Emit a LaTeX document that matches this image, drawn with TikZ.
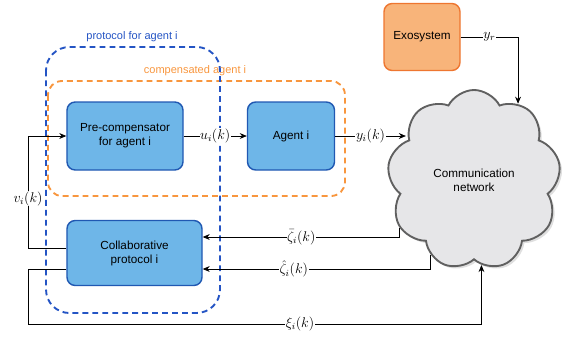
\documentclass[tikz,border=0pt]{standalone}
\usepackage{fontspec}
\setsansfont{Liberation Sans}
\usetikzlibrary{arrows.meta,shapes.symbols,shadows}
\definecolor{boxblue}{RGB}{110,182,232}
\definecolor{edgeblue}{RGB}{32,88,178}
\definecolor{boxorange}{RGB}{248,180,122}
\definecolor{edgeorange}{RGB}{238,118,48}
\definecolor{dashblue}{RGB}{36,84,196}
\definecolor{dashorange}{RGB}{248,150,62}
\definecolor{cloudgray}{RGB}{230,230,232}
\tikzset{
  block/.style={draw=edgeblue, fill=boxblue, line width=1.2pt, rounded corners=7pt,
    font=\sffamily, align=center, inner sep=2pt},
  exobox/.style={block, draw=edgeorange, fill=boxorange},
  arr/.style={-{Stealth[length=6pt,width=5pt]}, line width=0.6pt},
  lbl/.style={fill=white, inner sep=0.5pt, font=\large},
  dashbox/.style={line width=1.6pt, dash pattern=on 5pt off 3.5pt},
}

\begin{document}
\begin{tikzpicture}[x=0.03cm, y=-0.03cm]
\useasboundingbox (0,0) rectangle (564,336);

% dashed groups
\draw[dashbox, dashorange, rounded corners=12pt] (48,81) rectangle (345,196);
\node[text=dashorange, font=\sffamily\fontsize{9.4}{11}\selectfont] (comptitle) at (195,71) {compensated agent i};
\draw[dashbox, dashblue, rounded corners=20pt] (46,47) rectangle (220,313);
\node[text=dashblue, font=\sffamily\fontsize{9.4}{11}\selectfont] (prottitle) at (132,37) {protocol for agent i};

% blocks
\node[block, minimum width=3.48cm, minimum height=2.04cm] (pre) at (125,136) {Pre-compensator\\for agent i};
\node[block, minimum width=2.61cm, minimum height=2.04cm] (agent) at (291,136) {Agent i};
\node[block, minimum width=4.05cm, minimum height=1.95cm] (collab) at (134.5,253) {Collaborative\\protocol i};
\node[exobox, minimum width=2.28cm, minimum height=2.01cm] (exo) at (422,37) {Exosystem};
\node[cloud, cloud puffs=9, cloud puff arc=125, aspect=1, draw=gray!75!black, fill=cloudgray,
  line width=1.6pt, minimum width=5.2cm, minimum height=5.4cm, font=\sffamily, align=center,
  drop shadow={opacity=0.25, shadow xshift=2pt, shadow yshift=-2pt}] (cloud) at (474,180)
  {Communication\\network};

% connectors
\coordinate (vl) at (28,136);
\coordinate (xl) at (28,324);
\draw[arr] (pre) -- node[lbl]{$u_i(k)$} (agent);
\draw[arr] (agent) -- node[lbl]{$y_i(k)$} (agent.east -| cloud.150);
\draw[arr] (exo.east) -| node[lbl, pos=0.25]{$y_r$} (cloud.60);
\draw[arr] (cloud.213) |- node[lbl, pos=0.75]{$\bar{\zeta}_i(k)$} ([yshift=0.48cm]collab.east);
\draw[arr] (cloud.240) |- node[lbl, pos=0.8]{$\hat{\zeta}_i(k)$} ([yshift=-0.48cm]collab.east);
\draw[arr] ([yshift=0.15cm]collab.west) -| node[lbl, pos=0.72]{$v_i(k)$} (vl) -- (pre.west);
\draw[arr] ([yshift=-0.48cm]collab.west) -| (xl) -| node[lbl, pos=0.3]{$\xi_i(k)$} (cloud.275);
\end{tikzpicture}
\end{document}
